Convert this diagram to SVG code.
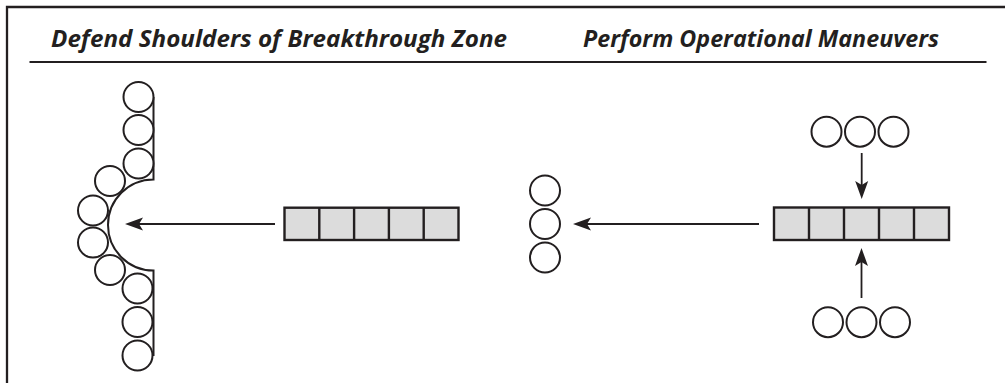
<svg xmlns="http://www.w3.org/2000/svg" width="1005" height="383" viewBox="0 0 1005 383">
<style>
.c{fill:#fff;stroke:#231f20;stroke-width:2}
.ln{fill:none;stroke:#231f20;stroke-width:2}
.bar{fill:#dcdcdc;stroke:#231f20;stroke-width:2.4}
.cn{fill:none;stroke:#231f20;stroke-width:1.8}
.t{font-family:"Open Sans","Liberation Sans",sans-serif;font-weight:bold;font-style:italic;font-size:23px;fill:#231f20}
</style>
<defs>
<marker id="ah" markerUnits="userSpaceOnUse" markerWidth="30" markerHeight="20" viewBox="-10 -10 30 20" refX="0" refY="0" orient="auto">
<path d="M10,0 L-8,-6.5 L-4,0 L-8,6.5 Z" fill="#231f20"/>
</marker>
</defs>
<g id="frame">
<path d="M7,383 V7 H1005" fill="none" stroke="#231f20" stroke-width="2.3"/>
<line x1="29.5" y1="62" x2="986.5" y2="62" stroke="#231f20" stroke-width="2"/>
</g>
<g id="title-left"><text class="t" x="51" y="46.7" textLength="456" lengthAdjust="spacingAndGlyphs">Defend Shoulders of Breakthrough Zone</text></g>
<g id="title-right"><text class="t" x="583" y="46.7" textLength="356" lengthAdjust="spacingAndGlyphs">Perform Operational Maneuvers</text></g>
<g id="shoulders">
<path class="ln" d="M153.5,97 V179.5 A45.5,45.5 0 0 0 153.5,270.5 V356"/>
<circle class="c" cx="138.5" cy="97" r="15"/>
<circle class="c" cx="138.5" cy="130" r="15"/>
<circle class="c" cx="138.5" cy="163.5" r="15"/>
<circle class="c" cx="110" cy="181" r="15"/>
<circle class="c" cx="93" cy="210.5" r="15"/>
<circle class="c" cx="93" cy="242.5" r="15"/>
<circle class="c" cx="110" cy="270" r="15"/>
<circle class="c" cx="137.5" cy="288.5" r="15"/>
<circle class="c" cx="137.5" cy="322" r="15"/>
<circle class="c" cx="137.5" cy="355.5" r="15"/>
</g>
<g id="bar-left">
<rect class="bar" x="284.5" y="207.7" width="174" height="32.3"/>
<path class="bar" d="M319.3,207.7 V240 M354.1,207.7 V240 M388.9,207.7 V240 M423.7,207.7 V240"/>
</g>
<g id="column-right">
<circle class="c" cx="545" cy="190.5" r="15"/>
<circle class="c" cx="545" cy="224" r="15"/>
<circle class="c" cx="545" cy="257.5" r="15"/>
</g>
<g id="bar-right">
<rect class="bar" x="774" y="207.5" width="175" height="32.5"/>
<path class="bar" d="M809,207.5 V240 M844,207.5 V240 M879,207.5 V240 M914,207.5 V240"/>
</g>
<g id="top-group">
<circle class="c" cx="826.5" cy="131.7" r="15"/>
<circle class="c" cx="860" cy="131.7" r="15"/>
<circle class="c" cx="893.5" cy="131.7" r="15"/>
</g>
<g id="bottom-group">
<circle class="c" cx="828" cy="322.2" r="15"/>
<circle class="c" cx="861.5" cy="322.2" r="15"/>
<circle class="c" cx="895" cy="322.2" r="15"/>
</g>
<g id="connectors">
<line class="cn" x1="275" y1="224" x2="135" y2="224" marker-end="url(#ah)"/>
<line class="cn" x1="759" y1="224" x2="583" y2="224" marker-end="url(#ah)"/>
<line class="cn" x1="861.7" y1="153" x2="861.7" y2="189" marker-end="url(#ah)"/>
<line class="cn" x1="861.5" y1="298" x2="861.5" y2="258" marker-end="url(#ah)"/>
</g>
</svg>
